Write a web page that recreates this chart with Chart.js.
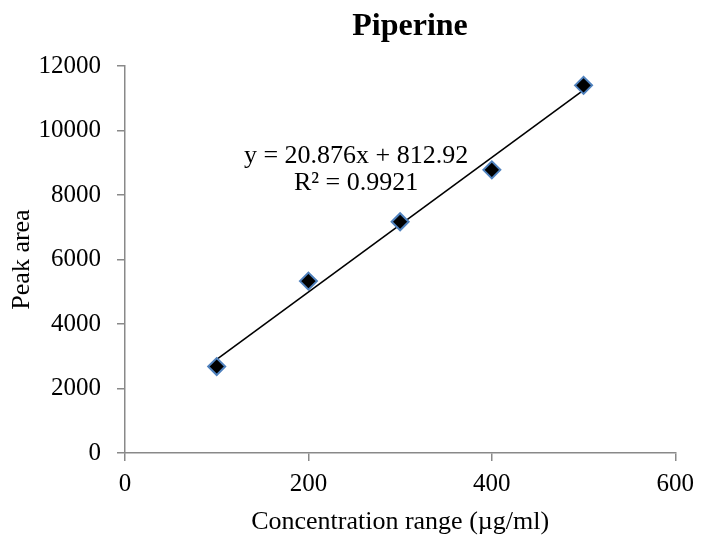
<!DOCTYPE html>
<html>
<head>
<meta charset="utf-8">
<script src="https://cdn.jsdelivr.net/npm/chart.js@4"></script>
<style>
  html, body { margin: 0; padding: 0; background: #fff; }
  #wrap { width: 702px; height: 540px; }
</style>
</head>
<body>
<div id="wrap"><canvas id="myChart" width="702" height="540"></canvas></div>
<script>
// concentration (µg/ml) and measured peak area
const concentrations = [100, 200, 300, 400, 500];
const peakAreas = [2680, 5330, 7170, 8780, 11400];

// linear trendline endpoints (y = 20.876x + 812.92)
const trendX = [100, 500];
const trendY = [2901, 11251];

const xTicks = [0, 200, 400, 600];
const yTicks = [0, 2000, 4000, 6000, 8000, 10000, 12000];

const chartTitle = 'Piperine';
const equationLines = ['y = 20.876x + 812.92', 'R\u00b2 = 0.9921'];

const serif = "'Liberation Serif', 'Times New Roman', serif";
const axisGray = '#898989';

Chart.defaults.font.family = serif;
Chart.defaults.color = '#000';

// title sits a bit right of the plot centre, draw it by hand
const titleLabel = {
    id: 'titleLabel',
    afterDraw(chart) {
        const ctx = chart.ctx;
        ctx.save();
        ctx.font = 'bold 32px ' + serif;
        ctx.fillStyle = '#000';
        ctx.textAlign = 'center';
        ctx.textBaseline = 'middle';
        ctx.fillText(chartTitle, 410, 27);
        ctx.restore();
    }
};

// draw the trendline equation like excel does
const equationLabel = {
    id: 'equationLabel',
    afterDatasetsDraw(chart) {
        const ctx = chart.ctx;
        const x = chart.scales.x.getPixelForValue(252);
        const y = chart.scales.y.getPixelForValue(9200);
        ctx.save();
        ctx.font = '26px ' + serif;
        ctx.fillStyle = '#000';
        ctx.textAlign = 'center';
        ctx.textBaseline = 'middle';
        ctx.fillText(equationLines[0], x, y);
        ctx.fillText(equationLines[1], x, y + 27);
        ctx.restore();
    }
};

const ctx = document.getElementById('myChart').getContext('2d');
const myChart = new Chart(ctx, {
    type: 'scatter',
    data: {
        datasets: [
            {
                label: 'Piperine',
                data: concentrations.map((c, i) => ({ x: c, y: peakAreas[i] })),
                pointStyle: 'rectRot',
                pointRadius: 8.5,
                pointBackgroundColor: '#000',
                pointBorderColor: '#4f81bd',
                pointBorderWidth: 2,
                order: 1
            },
            {
                label: 'Linear',
                type: 'line',
                data: trendX.map((c, i) => ({ x: c, y: trendY[i] })),
                borderColor: '#000',
                borderWidth: 1.6,
                pointRadius: 0,
                fill: false,
                order: 2
            }
        ]
    },
    options: {
        responsive: false,
        animation: false,
        layout: { padding: { left: 3, right: 22, top: 66, bottom: 0 } },
        plugins: {
            legend: { display: false },
            tooltip: { enabled: false },
            title: { display: false }
        },
        scales: {
            x: {
                type: 'linear',
                min: 0,
                max: 600,
                afterBuildTicks(scale) { scale.ticks = xTicks.map(v => ({ value: v })); },
                afterFit(scale) { scale.height = 87; },
                ticks: { font: { size: 25 }, color: '#000', padding: 8, callback: v => String(v) },
                grid: { drawOnChartArea: false, drawTicks: true, tickLength: 8, color: axisGray, lineWidth: 1.5 },
                border: { color: axisGray, width: 1.5 },
                title: {
                    display: true,
                    text: 'Concentration range (\u00b5g/ml)',
                    font: { size: 26 },
                    color: '#000',
                    padding: { top: 4, bottom: 2 }
                }
            },
            y: {
                min: 0,
                max: 12000,
                afterBuildTicks(scale) { scale.ticks = yTicks.map(v => ({ value: v })); },
                afterFit(scale) { scale.width = 122; },
                ticks: { font: { size: 25 }, color: '#000', padding: 16, callback: v => String(v) },
                grid: { drawOnChartArea: false, drawTicks: true, tickLength: 8, color: axisGray, lineWidth: 1.5 },
                border: { color: axisGray, width: 1.5 },
                title: {
                    display: true,
                    text: 'Peak area',
                    font: { size: 26 },
                    color: '#000',
                    padding: { top: 4, bottom: 4 }
                }
            }
        }
    },
    plugins: [equationLabel, titleLabel]
});
</script>
</body>
</html>
